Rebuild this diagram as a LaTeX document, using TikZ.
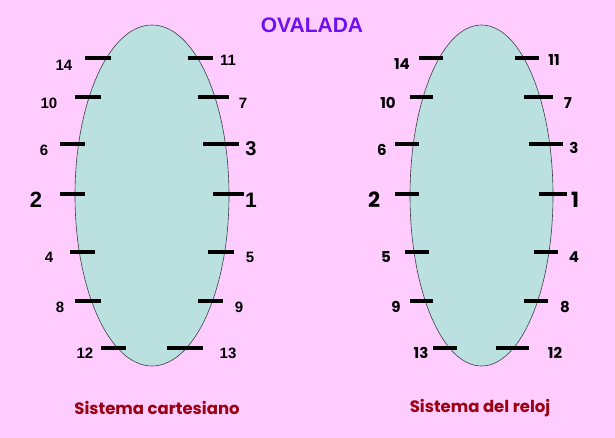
\documentclass[tikz,border=0pt]{standalone}
\usepackage{fontspec}
\setmainfont{Liberation Sans}
\newfontfamily\geo{Poppins}
\definecolor{bgpink}{HTML}{FFCCFF}
\definecolor{ovfill}{HTML}{BAE0E0}
\definecolor{ttl}{HTML}{7010F0}
\definecolor{capred}{HTML}{990010}
\tikzset{
  tick/.style={line width=4pt},
  num/.style={font=\bfseries\fontsize{15}{15}\selectfont, inner sep=0pt},
  bignum/.style={font=\bfseries\fontsize{22}{22}\selectfont, inner sep=0pt},
  gnum/.style={font=\geo\bfseries\fontsize{15}{15}\selectfont, inner sep=0pt},
  gbignum/.style={font=\geo\bfseries\fontsize{21}{21}\selectfont, inner sep=0pt},
  oval/.style={draw=black!75, line width=0.6pt, fill=ovfill},
  caption/.style={font=\geo\bfseries\fontsize{16.5}{16.5}\selectfont, text=capred, inner sep=0pt}
}
\begin{document}
\begin{tikzpicture}[x=1pt,y=-1pt]
\fill[bgpink] (0,0) rectangle (615,438);
\useasboundingbox (0,0) rectangle (615,438);
\node[font=\bfseries\fontsize{21}{21}\selectfont, text=ttl, inner sep=0pt] (title) at (312,25) {OVALADA};
% left oval
\draw[oval] (152,195.5) ellipse [x radius=77, y radius=170.5];
\draw[tick] (85,58) -- (111,58);
\draw[tick] (188,58) -- (213,58);
\draw[tick] (75,97) -- (101,97);
\draw[tick] (198,97) -- (229,97);
\draw[tick] (60,144) -- (85,144);
\draw[tick] (203,144) -- (239,144);
\draw[tick] (60,194.5) -- (85,194.5);
\draw[tick] (213,194.5) -- (244,194.5);
\draw[tick] (70,252) -- (95,252);
\draw[tick] (208,252) -- (234,252);
\draw[tick] (75,301) -- (101,301);
\draw[tick] (198,301) -- (223,301);
\draw[tick] (101,348) -- (126,348);
\draw[tick] (167,348) -- (203,348);
\node[num] (l14) at (64,65) {14};
\node[num] (l11) at (228,60) {11};
\node[num] (l10) at (49,103) {10};
\node[num] (l7) at (243,103) {7};
\node[num] (l6) at (44,150) {6};
\node[bignum, font=\bfseries\fontsize{20}{20}\selectfont] (l3) at (251,149) {3};
\node[bignum] (l2) at (36,200) {2};
\node[bignum, font=\bfseries\fontsize{21}{21}\selectfont] (l1) at (251,200) {1};
\node[num] (l4) at (49,257) {4};
\node[num] (l5) at (250,257) {5};
\node[num] (l8) at (60,307) {8};
\node[num] (l9) at (239,307) {9};
\node[num] (l12) at (85,353) {12};
\node[num] (l13) at (228,353) {13};
% right oval
\draw[oval] (481.5,195.5) ellipse [x radius=71.5, y radius=170.5];
\draw[tick] (419,58) -- (443,58);
\draw[tick] (515,58) -- (539,58);
\draw[tick] (410,97) -- (433,97);
\draw[tick] (524,97) -- (553,97);
\draw[tick] (395,144) -- (419,144);
\draw[tick] (529,144) -- (563,144);
\draw[tick] (395,194.5) -- (419,194.5);
\draw[tick] (539,194.5) -- (567,194.5);
\draw[tick] (405,252) -- (429,252);
\draw[tick] (534,252) -- (558,252);
\draw[tick] (410,301) -- (433,301);
\draw[tick] (524,301) -- (548,301);
\draw[tick] (433,348) -- (457,348);
\draw[tick] (496,348) -- (529,348);
\node[gnum] (r14) at (402,64) {14};
\node[gnum] (r11) at (554,60) {11};
\node[gnum] (r10) at (388,103) {10};
\node[gnum] (r7) at (568,103) {7};
\node[gnum] (r6) at (382,150) {6};
\node[gnum] (r3) at (574,148) {3};
\node[gbignum] (r2) at (374,200) {2};
\node[gbignum] (r1) at (575,200) {1};
\node[gnum] (r5) at (386,257) {5};
\node[gnum] (r4) at (574,257) {4};
\node[gnum] (r9) at (396,307) {9};
\node[gnum] (r8) at (565,307) {8};
\node[gnum] (r13) at (421,353) {13};
\node[gnum] (r12) at (555,353) {12};
% captions
\node[caption] (capl) at (157,408) {Sistema cartesiano};
\node[caption] (capr) at (480,408) {Sistema del reloj};
\end{tikzpicture}
\end{document}
